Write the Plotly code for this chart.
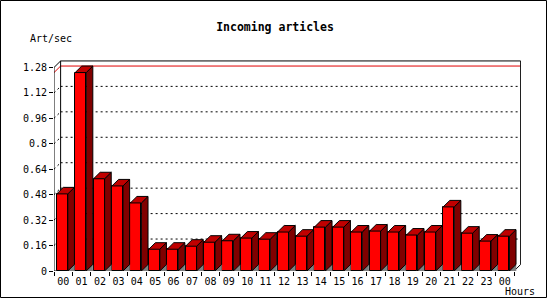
import plotly.graph_objects as go

# ---- data ----
hours = ["00", "01", "02", "03", "04", "05", "06", "07", "08", "09", "10", "11",
         "12", "13", "14", "15", "16", "17", "18", "19", "20", "21", "22", "23", "00"]
rates = [0.485, 1.248, 0.580, 0.535, 0.428, 0.137, 0.137, 0.156, 0.181, 0.190,
         0.207, 0.200, 0.245, 0.219, 0.276, 0.276, 0.245, 0.251, 0.245, 0.226,
         0.245, 0.403, 0.238, 0.188, 0.219]
y_ticks = [0, 0.16, 0.32, 0.48, 0.64, 0.8, 0.96, 1.12, 1.28]
y_tick_text = ["0", "0.16", "0.32", "0.48", "0.64", "0.8", "0.96", "1.12", "1.28"]
title_text = "Incoming articles"
y_title = "Art/sec"
x_title = "Hours"

# ---- layout constants ----
W, H = 550, 300
L, R, T, B = 54, 29, 60, 29
PW, PH = W - L - R, H - T - B
BAR_W, BAR_OFF = 0.6, -0.35
DX, DY = 0.36, 0.041
XR = [-0.5, 24.88]
YR = [0, 1.327]
FONT = "DejaVu Sans Mono"

n = len(hours)
xs = list(range(n))
ytop = y_ticks[-1]
xl0, xr0 = -0.5, n - 0.5


def px(p):
    return (p - L) / PW


def py(q):
    return (H - B - q) / PH


fig = go.Figure()

# floor shadows
sx, sy = [], []
for i, v in enumerate(rates):
    xr = i + BAR_OFF + BAR_W
    sx += [xr, xr + DX, xr + DX, xr, None]
    sy += [0, DY, 0, 0, None]
fig.add_trace(go.Scatter(x=sx, y=sy, mode="lines", fill="toself", fillcolor="#808080",
                         line=dict(color="#808080", width=0.5), hoverinfo="skip", showlegend=False))

# front faces
fig.add_trace(go.Bar(x=xs, y=rates, width=BAR_W, offset=BAR_OFF,
                     marker=dict(color="#FF0000", line=dict(color="black", width=1)),
                     hoverinfo="skip", showlegend=False))

# side faces
sx, sy = [], []
for i, v in enumerate(rates):
    xr = i + BAR_OFF + BAR_W
    sx += [xr, xr, xr + DX, xr + DX, xr, None]
    sy += [0, v, v + DY, DY, 0, None]
fig.add_trace(go.Scatter(x=sx, y=sy, mode="lines", fill="toself", fillcolor="#800000",
                         line=dict(color="black", width=1), hoverinfo="skip", showlegend=False))

# top faces
sx, sy = [], []
for i, v in enumerate(rates):
    xl = i + BAR_OFF
    xr = xl + BAR_W
    sx += [xl, xr, xr + DX, xl + DX, xl, None]
    sy += [v, v, v + DY, v + DY, v, None]
fig.add_trace(go.Scatter(x=sx, y=sy, mode="lines", fill="toself", fillcolor="#C00000",
                         line=dict(color="black", width=1), hoverinfo="skip", showlegend=False))

shapes = []


def seg(x0, y0, x1, y1, color="black", dash="solid"):
    shapes.append(dict(type="line", xref="x", yref="y", x0=x0, y0=y0, x1=x1, y1=y1,
                       line=dict(color=color, width=1, dash=dash), layer="below"))


# back wall grid lines (dotted) and diagonal stubs
for v in y_ticks[1:-1]:
    seg(xl0 + DX, v + DY, xr0 + DX, v + DY, dash="2px,3px")
    seg(xl0, v, xl0 + DX, v + DY, dash="2px,3px")
# max line (red)
mx = max(rates)
seg(xl0 + DX, mx + DY, xr0 + DX, mx + DY, color="#E00000")
seg(xl0, mx, xl0 + DX, mx + DY, color="#E00000")
# frame
seg(xl0, 0, xl0, ytop)                       # front left axis
seg(xl0, 0, xr0, 0)                          # front baseline
seg(xl0 + DX, DY, xl0 + DX, ytop + DY)       # back left
seg(xl0 + DX, ytop + DY, xr0 + DX, ytop + DY)  # back top
seg(xr0 + DX, DY, xr0 + DX, ytop + DY)       # back right
seg(xl0, ytop, xl0 + DX, ytop + DY)          # top-left diagonal
seg(xr0, 0, xr0 + DX, DY)                    # bottom-right diagonal

# outer border
shapes.append(dict(type="rect", xref="paper", yref="paper",
                   x0=px(0.5), y0=py(0.5), x1=px(546.5), y1=py(297.5),
                   line=dict(color="black", width=1), layer="above"))

fig.update_layout(
    width=W, height=H,
    margin=dict(l=L, r=R, t=T, b=B),
    paper_bgcolor="white", plot_bgcolor="white",
    bargap=0, showlegend=False,
    shapes=shapes,
    font=dict(family=FONT, size=10, color="black"),
    title=dict(text="<b>" + title_text + "</b>", x=0.5, xref="container", xanchor="center",
               y=1 - 27 / H, yref="container", yanchor="middle",
               font=dict(family=FONT, size=11.5, color="black")),
    xaxis=dict(range=XR, tickmode="array", tickvals=xs, ticktext=hours, ticks="",
               showgrid=False, zeroline=False, showline=False, fixedrange=True,
               ticklabelstandoff=3,
               tickfont=dict(family=FONT, size=10, color="black"),
               minor=dict(tickmode="array", tickvals=[i - 0.5 for i in range(n + 1)],
                          ticks="outside", ticklen=4, tickcolor="black", tickwidth=1,
                          showgrid=False)),
    yaxis=dict(range=YR, tickmode="array", tickvals=y_ticks, ticktext=y_tick_text,
               ticks="outside", ticklen=4, tickcolor="black", tickwidth=1,
               showgrid=False, zeroline=False, showline=False, fixedrange=True,
               tickfont=dict(family=FONT, size=10, color="black")),
    annotations=[
        dict(text=y_title, xref="paper", yref="paper", x=px(51), y=py(38),
             xanchor="center", yanchor="middle", showarrow=False,
             font=dict(family=FONT, size=10, color="black")),
        dict(text=x_title, xref="paper", yref="paper", x=px(519.5), y=py(291.5),
             xanchor="center", yanchor="middle", showarrow=False,
             font=dict(family=FONT, size=10, color="black")),
    ],
)

fig.write_html("out.html")
